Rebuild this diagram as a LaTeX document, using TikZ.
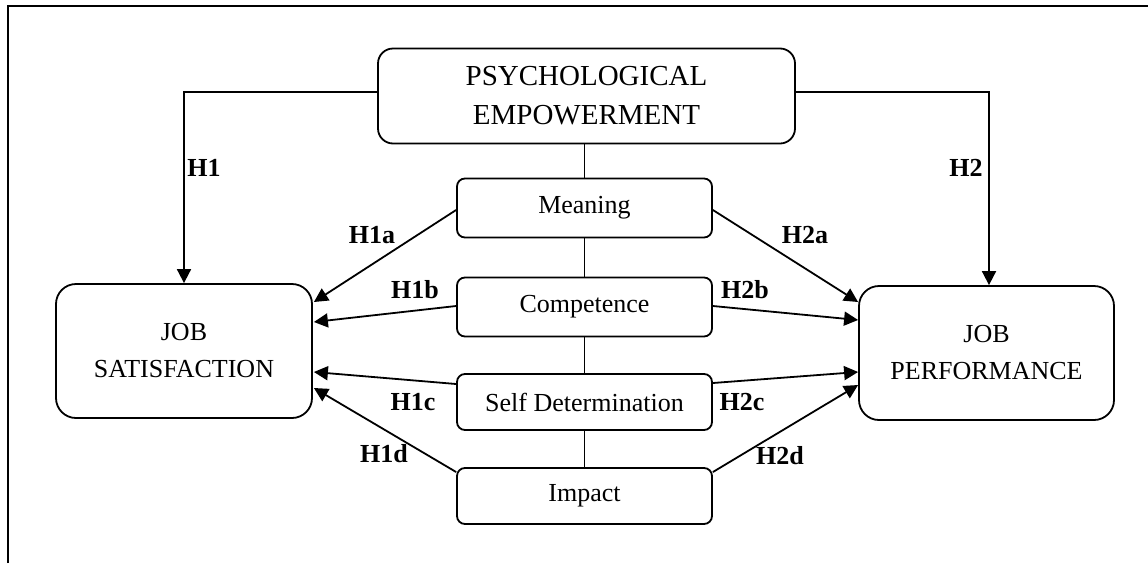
\documentclass[tikz,border=0pt]{standalone}
\usepackage{fontspec}
\setmainfont{Liberation Serif}
\usetikzlibrary{arrows.meta}
\begin{document}
\begin{tikzpicture}[x=1pt,y=-1pt,line width=1.8pt,
  bigbox/.style={draw,rectangle,rounded corners=20pt,align=center,
    inner sep=0pt,font=\fontsize{26}{37}\selectfont},
  pebox/.style={draw,rectangle,rounded corners=15pt,align=center,
    inner sep=0pt,font=\fontsize{29}{39}\selectfont,
    minimum width=417pt,minimum height=95pt},
  dimbox/.style={draw,rectangle,rounded corners=8pt,align=center,
    inner sep=0pt,font=\fontsize{26}{30}\selectfont,
    minimum width=255pt},
  hyp/.style={font=\fontsize{26}{30}\selectfont\bfseries,inner sep=0pt},
  arr/.style={-{Triangle[length=14pt,width=14pt]}}]
\useasboundingbox (0,0) rectangle (1148,563);
% open frame: left side and top only
\draw[line width=1.5pt] (8,563) -- (8,6) -- (1148,6);

% main construct and its dimensions
\node[pebox] (pe) at (586.5,96) {PSYCHOLOGICAL\\EMPOWERMENT};
\node[dimbox,minimum height=59pt] (mean) at (584.5,208) {Meaning};
\node[dimbox,minimum height=59pt] (comp) at (584.5,307) {Competence};
\node[dimbox,minimum height=56pt] (self) at (584.5,402) {Self Determination};
\node[dimbox,minimum height=56pt] (imp) at (584.5,496) {Impact};

% outcomes
\node[bigbox,minimum width=256pt,minimum height=134pt] (js) at (184,351) {JOB\\SATISFACTION};
\node[bigbox,minimum width=255pt,minimum height=134pt] (jp) at (986.5,353) {JOB\\PERFORMANCE};

% spine linking the dimensions
\draw (mean.north |- pe.south) -- (mean.north);
\draw (mean.south) -- (comp.north);
\draw (comp.south) -- (self.north);
\draw (self.south) -- (imp.north);

% overall hypotheses
\draw[arr] ([yshift=4pt]pe.west) -| (js.north);
\draw[arr] ([yshift=4pt]pe.east) -| ([xshift=2.5pt]jp.north);

% dimension-level hypotheses
\draw[arr] ([yshift=-2pt]mean.west) -- ([xshift=1pt,yshift=49pt]js.east);
\draw[arr] ([yshift=1pt]comp.west) -- ([xshift=1pt,yshift=29pt]js.east);
\draw[arr] ([yshift=18pt]self.west) -- ([xshift=1pt,yshift=-21pt]js.east);
\draw[arr] ([yshift=24pt]imp.west) -- ([xshift=1pt,yshift=-37pt]js.east);

\draw[arr] ([yshift=-2pt]mean.east) -- ([yshift=51pt]jp.west);
\draw[arr] ([yshift=1pt]comp.east) -- ([yshift=33pt]jp.west);
\draw[arr] ([yshift=19pt]self.east) -- ([yshift=-19pt]jp.west);
\draw[arr] ([yshift=24pt]imp.east) -- ([yshift=-32pt]jp.west);

% hypothesis labels
\node[hyp] (h1) at (204,168) {H1};
\node[hyp] (h2) at (966,168) {H2};
\node[hyp] (h1a) at (372,235) {H1a};
\node[hyp] (h1b) at (415,290) {H1b};
\node[hyp] (h1c) at (413,402) {H1c};
\node[hyp] (h1d) at (384,454) {H1d};
\node[hyp] (h2a) at (805,235) {H2a};
\node[hyp] (h2b) at (745,290) {H2b};
\node[hyp] (h2c) at (742,402) {H2c};
\node[hyp] (h2d) at (780,456) {H2d};
\end{tikzpicture}
\end{document}
